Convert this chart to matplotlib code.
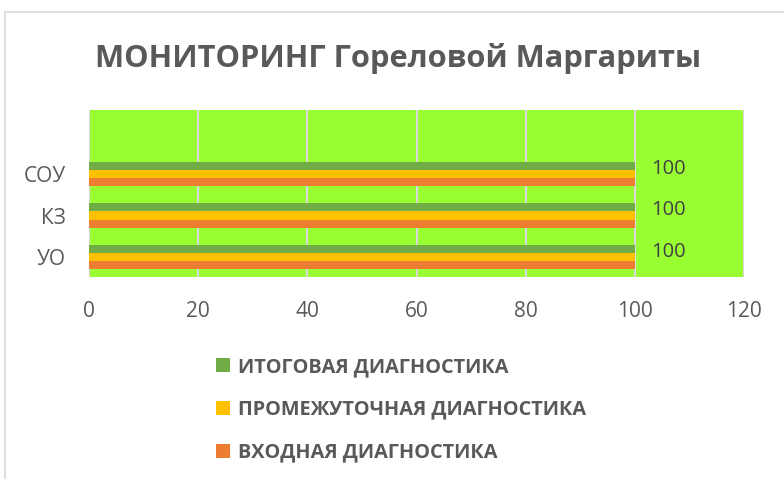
import matplotlib
matplotlib.use("Agg")
import matplotlib.pyplot as plt
from matplotlib.patches import Patch
from matplotlib.lines import Line2D
import numpy as np

categories = ["УО", "КЗ", "СОУ"]
series_names = ["ВХОДНАЯ ДИАГНОСТИКА", "ПРОМЕЖУТОЧНАЯ ДИАГНОСТИКА", "ИТОГОВАЯ ДИАГНОСТИКА"]
vhod = [100, 100, 100]
prom = [100, 100, 100]
itog = [100, 100, 100]
xticks = [0, 20, 40, 60, 80, 100, 120]
title = "МОНИТОРИНГ Гореловой Маргариты"

colors = ["#ED7D31", "#FFC000", "#70AD47"]
text_gray = "#595959"
font = "Open Sans"

fig = plt.figure(figsize=(7.84, 4.79), dpi=100)
fig.patch.set_facecolor("white")
W, H = 784, 479
ax = fig.add_axes([89 / W, 1 - 277 / H, (744 - 89) / W, (277 - 110) / H])
ax.set_facecolor("#99FF33")

y = np.arange(len(categories))
h = 0.195
for i, (vals, c, name) in enumerate(zip([vhod, prom, itog], colors, series_names)):
    ax.barh(y + (i - 1) * h, vals, height=h, color=c, label=name, zorder=3)

for yi, v in zip(y, itog):
    ax.annotate(f"{v}", (v, yi + h), xytext=(12, -2), textcoords="offset points",
                va="center", ha="left", fontsize=14.5, color="#404040", family=font)

ax.set_xlim(0, 120)
ax.set_ylim(-0.48, 3.54)
ax.set_xticks(xticks)
ax.set_xticklabels([str(t) for t in xticks])
ax.set_yticks(y)
ax.set_yticklabels(categories)
ax.grid(axis="x", color="#D9D9D9", linewidth=1.5, zorder=1)
for s in ax.spines.values():
    s.set_visible(False)
ax.tick_params(length=0, labelsize=15, labelcolor=text_gray)
ax.tick_params(axis="x", pad=17)
ax.tick_params(axis="y", pad=17)
for lab in ax.get_xticklabels() + ax.get_yticklabels():
    lab.set_family(font)

fig.text(0.5 * (97 + 700) / W, 1 - 58 / H, title, ha="center", va="center",
         fontsize=22.2, fontweight="bold", color=text_gray, family=font)

handles = [Patch(facecolor=colors[2]), Patch(facecolor=colors[1]), Patch(facecolor=colors[0])]
labels = [series_names[2], series_names[1], series_names[0]]
leg = fig.legend(handles, labels, loc="upper left", bbox_to_anchor=(198 / W, 1 - 339 / H),
                 frameon=False, handlelength=0.7, handleheight=0.7, handletextpad=0.4,
                 labelspacing=1.15, prop={"family": font, "weight": "bold", "size": 14.3})
for t in leg.get_texts():
    t.set_color(text_gray)

fig.add_artist(Line2D([5 / W, 5 / W], [0, 1 - 12 / H], color="#D9D9D9", linewidth=1.2))
fig.add_artist(Line2D([5 / W, 1], [1 - 12 / H, 1 - 12 / H], color="#D9D9D9", linewidth=1.2))

fig.savefig("out.png", dpi=100)
